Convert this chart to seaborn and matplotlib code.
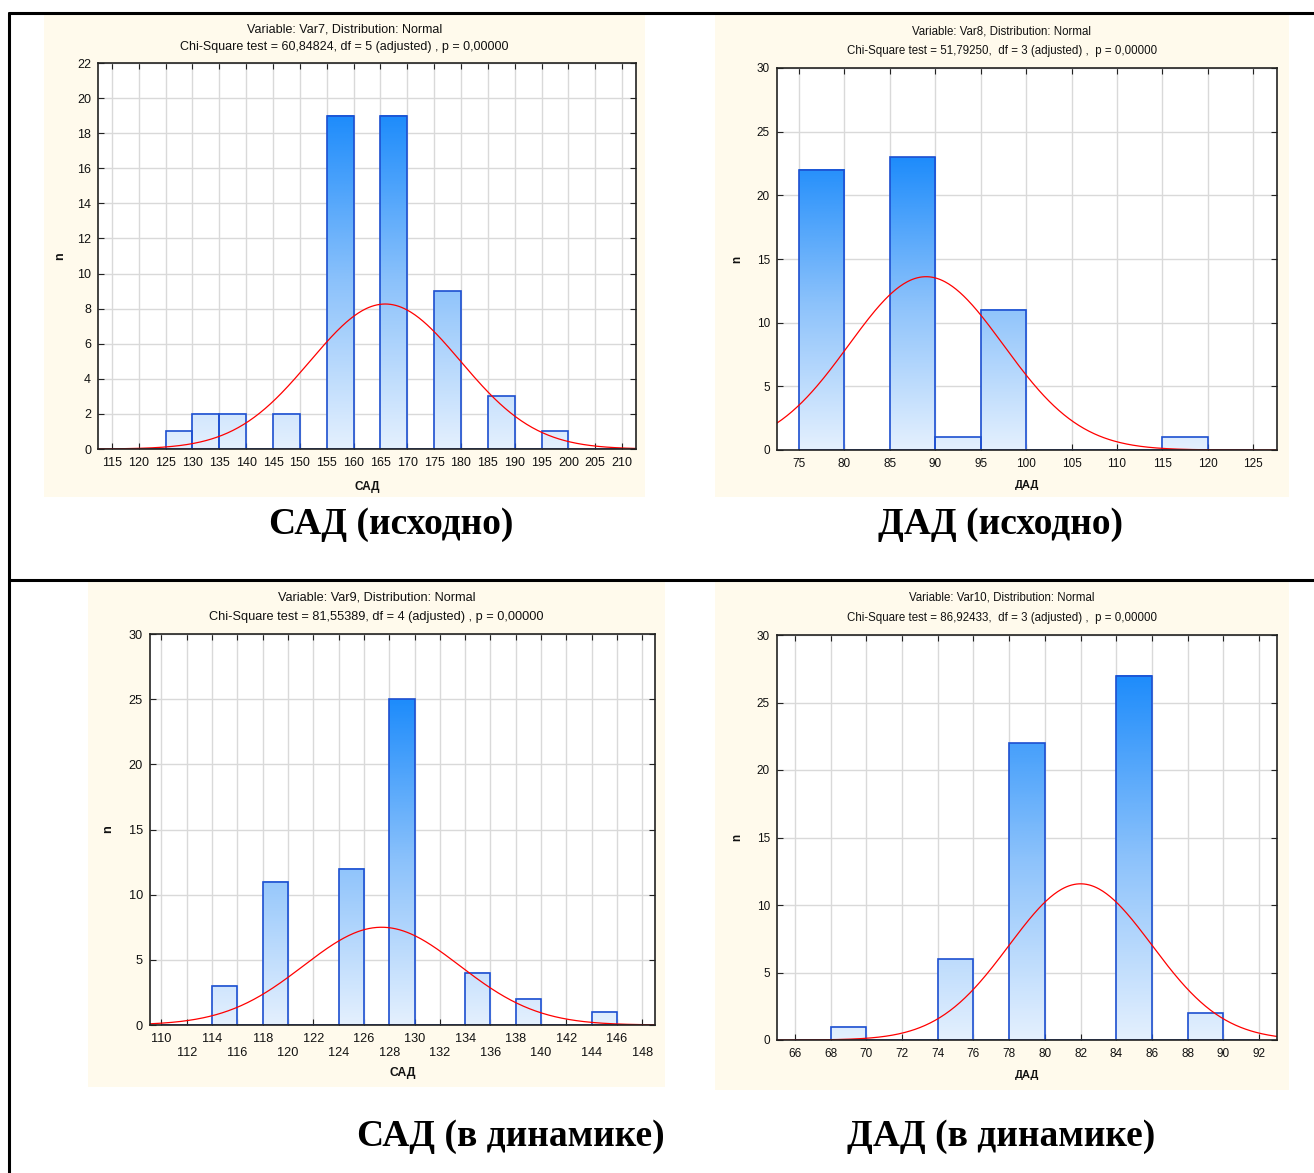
import numpy as np
import pandas as pd
import matplotlib
matplotlib.use("Agg")
import matplotlib.pyplot as plt
import seaborn as sns
from matplotlib.colors import LinearSegmentedColormap, Normalize
from matplotlib.lines import Line2D
from matplotlib.patches import Rectangle

# ---------------- data ----------------
# Panel 1: САД (исходно)
sad0_edges = [115, 120, 125, 130, 135, 140, 145, 150, 155, 160, 165, 170, 175, 180, 185, 190, 195, 200, 205, 210]
sad0_counts = [0, 0, 1, 2, 2, 0, 2, 0, 19, 0, 19, 0, 9, 0, 3, 0, 1, 0, 0]
sad0_fit = (165.9, 14.0)           # mean, sd of fitted normal curve
sad0_title = ["Variable: Var7, Distribution: Normal",
              "Chi-Square test = 60,84824, df = 5 (adjusted) , p = 0,00000"]

# Panel 2: ДАД (исходно)
dad0_edges = [75, 80, 85, 90, 95, 100, 105, 110, 115, 120, 125]
dad0_counts = [22, 0, 23, 1, 11, 0, 0, 0, 1, 0]
dad0_fit = (89.0, 8.5)
dad0_title = ["Variable: Var8, Distribution: Normal",
              "Chi-Square test = 51,79250,  df = 3 (adjusted) ,  p = 0,00000"]

# Panel 3: САД (в динамике)
sad1_edges = [110, 112, 114, 116, 118, 120, 122, 124, 126, 128, 130, 132, 134, 136, 138, 140, 142, 144, 146, 148]
sad1_counts = [0, 0, 3, 0, 11, 0, 0, 12, 0, 25, 0, 0, 4, 0, 2, 0, 0, 1, 0]
sad1_fit = (127.4, 6.17)
sad1_title = ["Variable: Var9, Distribution: Normal",
              "Chi-Square test = 81,55389, df = 4 (adjusted) , p = 0,00000"]

# Panel 4: ДАД (в динамике)
dad1_edges = [66, 68, 70, 72, 74, 76, 78, 80, 82, 84, 86, 88, 90, 92]
dad1_counts = [0, 1, 0, 0, 6, 0, 22, 0, 0, 27, 0, 2, 0]
dad1_fit = (82.0, 4.0)
dad1_title = ["Variable: Var10, Distribution: Normal",
              "Chi-Square test = 86,92433,  df = 3 (adjusted) ,  p = 0,00000"]

xlabels = ["САД", "ДАД", "САД", "ДАД"]
captions = ["САД (исходно)", "ДАД (исходно)", "САД (в динамике)", "ДАД (в динамике)"]

# ---------------- style ----------------
sns.set_theme(style="ticks")
plt.rcParams["font.family"] = ["Liberation Sans", "DejaVu Sans"]

W, H = 1314, 1173
fig = plt.figure(figsize=(W / 100, H / 100), dpi=100)
fig.patch.set_facecolor("white")

CREAM = "#FFFAEC"
EDGE = "#1D4FD0"
cmap = LinearSegmentedColormap.from_list("bars", ["#E4F0FE", "#8CC2FB", "#1E8CFB"])


def fx(x):
    return x / W


def fy(y):
    return 1 - y / H


def add_box(x0, y0, x1, y1):
    fig.patches.append(Rectangle((fx(x0), fy(y1)), fx(x1) - fx(x0), fy(y0) - fy(y1),
                                 transform=fig.transFigure, facecolor=CREAM,
                                 edgecolor="none", zorder=-5))


panels = [
    dict(edges=sad0_edges, counts=sad0_counts, fit=sad0_fit, title=sad0_title,
         box=(44, 14, 645, 497), ax=(98, 63, 636, 449), xlim=(112.4, 212.6),
         ylim=22, ystep=2, tfs=9, tly=(29, 47), ylx=-0.07, xly=-0.098, stagger=False, fs=9),
    dict(edges=dad0_edges, counts=dad0_counts, fit=dad0_fit, title=dad0_title,
         box=(715, 14, 1289, 497), ax=(777, 68, 1277, 450), xlim=(72.6, 127.6),
         ylim=30, ystep=5, tfs=8.3, tly=(31, 51), ylx=-0.08, xly=-0.092, stagger=False, fs=8.5),
    dict(edges=sad1_edges, counts=sad1_counts, fit=sad1_fit, title=sad1_title,
         box=(88, 581, 665, 1087), ax=(150, 634, 655, 1025), xlim=(109.1, 149.0),
         ylim=30, ystep=5, tfs=9.2, tly=(598, 617), ylx=-0.083, xly=-0.123, stagger=True, fs=9.2),
    dict(edges=dad1_edges, counts=dad1_counts, fit=dad1_fit, title=dad1_title,
         box=(715, 581, 1289, 1090), ax=(777, 635, 1277, 1040), xlim=(65.0, 93.0),
         ylim=30, ystep=5, tfs=8.3, tly=(598, 618), ylx=-0.08, xly=-0.086, stagger=False, fs=8.5),
]

for i, p in enumerate(panels):
    add_box(*p["box"])
    x0, y0, x1, y1 = p["ax"]
    ax = fig.add_axes([fx(x0), fy(y1), fx(x1) - fx(x0), fy(y0) - fy(y1)])
    ax.set_zorder(2)
    ax.set_facecolor("white")

    edges = [float(v) for v in p["edges"]]
    counts = np.array(p["counts"], dtype=float)
    mids = [(a + b) / 2 for a, b in zip(edges[:-1], edges[1:])]
    df = pd.DataFrame({"value": mids, "count": counts})

    sns.histplot(data=df, x="value", weights="count", bins=edges, ax=ax,
                 color=EDGE, alpha=1, linewidth=1.2)
    vmax = counts.max()
    norm = Normalize(0, vmax)
    for bar in list(ax.patches):
        bar.set_facecolor("none")
        bar.set_edgecolor(EDGE)
        bar.set_linewidth(1.2)
        bar.set_zorder(3)
        bx, bw, bh = bar.get_x(), bar.get_width(), bar.get_height()
        if bh > 0:
            grad = np.linspace(0, bh, 200).reshape(-1, 1)
            ax.imshow(grad, extent=[bx, bx + bw, 0, bh], origin="lower", cmap=cmap,
                      norm=norm, aspect="auto", interpolation="bilinear", zorder=2)

    # fitted normal curve
    mu, sd = p["fit"]
    n = counts.sum()
    bwid = edges[1] - edges[0]
    xs = np.linspace(p["xlim"][0], p["xlim"][1], 400)
    ys = n * bwid / (sd * np.sqrt(2 * np.pi)) * np.exp(-0.5 * ((xs - mu) / sd) ** 2)
    sns.lineplot(x=xs, y=ys, ax=ax, color="#FF0000", linewidth=0.9, zorder=4)

    ax.set_xlim(*p["xlim"])
    ax.set_ylim(0, p["ylim"])
    ax.set_xticks(edges)
    if p["stagger"]:
        ax.set_xticklabels([f"{int(v)}" if k % 2 == 0 else f"\n{int(v)}" for k, v in enumerate(edges)])
    else:
        ax.set_xticklabels([f"{int(v)}" for v in edges])
    yt = np.arange(0, p["ylim"] + 0.1, p["ystep"])
    ax.set_yticks(yt)
    ax.set_yticklabels([f"{int(v)}" for v in yt])

    ax.grid(True, color="#D9D9D9", linewidth=1.0)
    ax.set_axisbelow(True)
    for s in ax.spines.values():
        s.set_color("#222222")
        s.set_linewidth(1.2)
        s.set_visible(True)
        s.set_zorder(5)
    ax.tick_params(axis="both", direction="in", length=4, width=0.8, color="#222222",
                   labelsize=p["fs"], labelcolor="#111111", top=True, right=True, pad=5)
    ax.tick_params(axis="x", pad=6)

    ax.set_xlabel(xlabels[i], fontsize=p["fs"] - 0.5, fontweight="bold", color="#111111")
    ax.set_ylabel("n", fontsize=p["fs"], fontweight="bold", color="#111111")
    ax.xaxis.set_label_coords(0.5, p["xly"])
    ax.xaxis.label.set_va("center")
    ax.yaxis.set_label_coords(p["ylx"], 0.5)
    ax.yaxis.label.set_va("center")

    cx = (p["box"][0] + p["box"][2]) / 2
    fig.text(fx(cx), fy(p["tly"][0]), p["title"][0], ha="center", va="center",
             fontsize=p["tfs"], color="#111111")
    fig.text(fx(cx), fy(p["tly"][1]), p["title"][1], ha="center", va="center",
             fontsize=p["tfs"], color="#111111")

# captions
cap_pos = [(391, 525), (1001, 525), (511, 1137), (1001, 1137)]
for (cx, cy), txt in zip(cap_pos, captions):
    fig.text(fx(cx), fy(cy), txt, ha="center", va="center", fontsize=27,
             fontweight="bold", family=["Liberation Serif", "DejaVu Serif"], color="black")

# outer frame lines
for (xa, ya, xb, yb) in [(9, 13, W, 13), (9, 13, 9, H), (9, 580, W, 580)]:
    fig.lines.append(Line2D([fx(xa), fx(xb)], [fy(ya), fy(yb)], transform=fig.transFigure,
                            color="black", linewidth=2.2))

fig.savefig("out.png", dpi=100, facecolor="white")
